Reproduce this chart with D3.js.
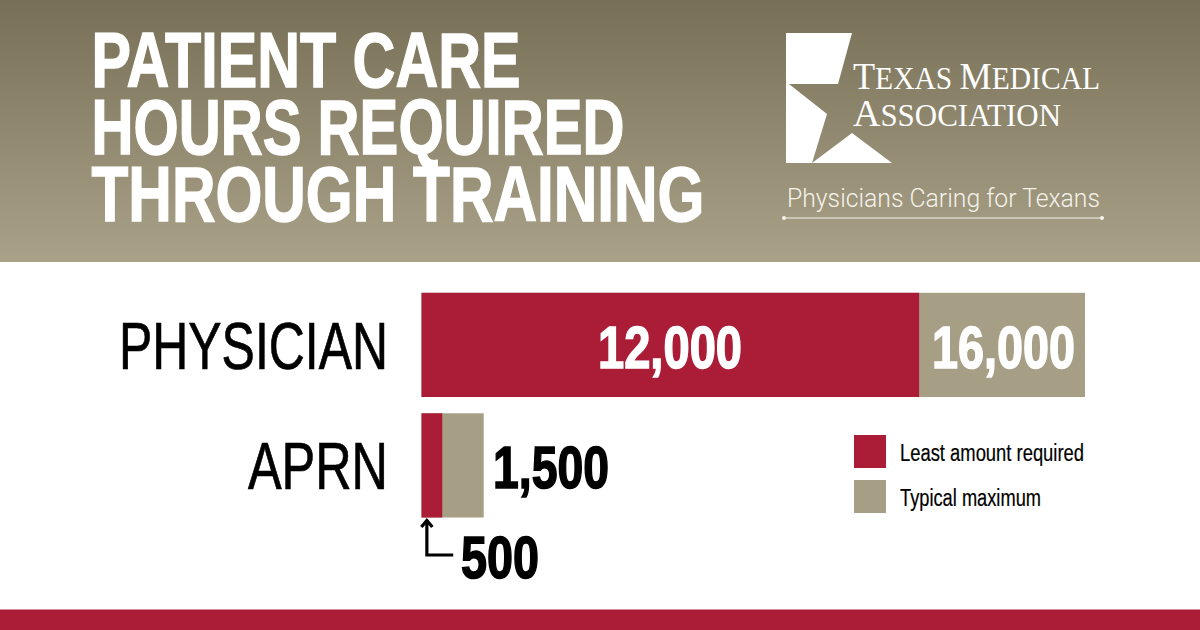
<!DOCTYPE html>
<html>
<head>
<meta charset="utf-8">
<script src="https://cdn.jsdelivr.net/npm/d3@7"></script>
<style>
  html, body { margin: 0; padding: 0; background: #fff; }
  svg { display: block; }
  text { font-family: "Liberation Sans Narrow", "Liberation Sans", sans-serif; }
</style>
</head>
<body>
<div id="container"></div>
<script>
const categories = ["PHYSICIAN", "APRN"];
const leastRequired = [12000, 500];
const typicalMaximum = [16000, 1500];
const legendLabels = ["Least amount required", "Typical maximum"];
const titleLines = ["PATIENT CARE", "HOURS REQUIRED", "THROUGH TRAINING"];

const width = 1200;
const height = 630;
const red = "#ab1c36";
const tan = "#a69e85";

const svg = d3.select("#container")
  .append("svg")
  .attr("width", width)
  .attr("height", height);

// header gradient
const grad = svg.append("defs").append("linearGradient")
  .attr("id", "head").attr("x1", 0).attr("y1", 0).attr("x2", 0).attr("y2", 1);
grad.append("stop").attr("offset", "0%").attr("stop-color", "#777056");
grad.append("stop").attr("offset", "100%").attr("stop-color", "#a9a188");

svg.append("rect").attr("width", width).attr("height", 262).attr("fill", "url(#head)");
svg.append("rect").attr("y", 609.5).attr("width", width).attr("height", 20.5).attr("fill", red);

// text helper, squeezes to the measured width. stroke thickens the narrow face
function label(parent, str, x, y, size, w, opts = {}) {
  const fill = opts.fill || "#000";
  const t = parent.append("text")
    .attr("x", x).attr("y", y)
    .attr("font-size", size)
    .attr("font-weight", opts.weight || "normal")
    .attr("fill", fill)
    .attr("textLength", w)
    .attr("lengthAdjust", "spacingAndGlyphs")
    .text(str);
  if (opts.family) t.style("font-family", opts.family);
  if (opts.stroke) t.attr("stroke", fill).attr("stroke-width", opts.stroke);
  return t;
}

// title
const titleBase = [87, 154, 221];
const titleWidth = [429, 533, 613];
titleLines.forEach((t, i) => {
  label(svg, t, 91.5, titleBase[i], 78, titleWidth[i], { weight: "bold", fill: "#fff", stroke: 1.4 });
});

// logo
const logo = svg.append("g");
logo.append("polygon")
  .attr("points", "786,33 852,33 838,84 789,84 827,114 812,163 852,133 892,163 786,163")
  .attr("fill", "#fff");
const serif = "'Liberation Serif', serif";
const logoText = logo.append("text")
  .attr("x", 853).attr("y", 89)
  .attr("fill", "#fff").attr("font-size", 38)
  .attr("textLength", 247).attr("lengthAdjust", "spacingAndGlyphs");
[["T", 38], ["EXAS ", 31], ["M", 38], ["EDICAL", 31]].forEach(d => {
  logoText.append("tspan").attr("font-size", d[1]).attr("font-family", serif).text(d[0]);
});
const logoText2 = logo.append("text")
  .attr("x", 853).attr("y", 126)
  .attr("fill", "#fff").attr("font-size", 38)
  .attr("textLength", 208).attr("lengthAdjust", "spacingAndGlyphs");
[["A", 38], ["SSOCIATION", 31]].forEach(d => {
  logoText2.append("tspan").attr("font-size", d[1]).attr("font-family", serif).text(d[0]);
});
label(logo, "Physicians Caring for Texans", 787, 207, 25, 313, { fill: "#f4f2ea", family: "Roboto", weight: 300 });
logo.append("line").attr("x1", 784).attr("x2", 1102).attr("y1", 218).attr("y2", 218)
  .attr("stroke", "#f4f2ea").attr("stroke-width", 1.2);
logo.selectAll("circle").data([784, 1102]).join("circle")
  .attr("cx", d => d).attr("cy", 218).attr("r", 2).attr("fill", "#f4f2ea");

// bars
const x = d3.scaleLinear().domain([0, 16000]).range([421.5, 1085]);
const y = d3.scaleBand().domain(categories).range([292.8, 517.5]).paddingInner(0.135);

svg.selectAll("rect.max").data(categories).join("rect")
  .attr("class", "max")
  .attr("x", x(0))
  .attr("y", d => y(d))
  .attr("width", (d, i) => x(typicalMaximum[i]) - x(0))
  .attr("height", y.bandwidth())
  .attr("fill", tan);

svg.selectAll("rect.least").data(categories).join("rect")
  .attr("class", "least")
  .attr("x", x(0))
  .attr("y", d => y(d))
  .attr("width", (d, i) => x(leastRequired[i]) - x(0))
  .attr("height", y.bandwidth())
  .attr("fill", red);

// category labels
const catWidth = [269, 140];
categories.forEach((c, i) => {
  label(svg, c, 388 - catWidth[i], y(c) + 76, 66, catWidth[i], { stroke: 0.7 });
});

// value labels
const fmt = d3.format(",");
const physBase = y("PHYSICIAN") + 75;
const aprnBase = y("APRN") + 75;
const numStyle = { weight: "bold", stroke: 1.6 };
label(svg, fmt(leastRequired[0]), 598, physBase, 60, 144, { ...numStyle, fill: "#fff" });
label(svg, fmt(typicalMaximum[0]), 932, physBase, 60, 143, { ...numStyle, fill: "#fff" });
label(svg, fmt(typicalMaximum[1]), 493, aprnBase, 60, 116, numStyle);
label(svg, fmt(leastRequired[1]), 461, 578, 60, 78, numStyle);

// arrow from the 500 label up to the red piece
const arrowX = (x(0) + x(leastRequired[1])) / 2 - 5;
svg.append("path")
  .attr("d", d3.line()([[x(leastRequired[1]) + 11, 555], [arrowX, 555], [arrowX, 520]]))
  .attr("fill", "none").attr("stroke", "#000").attr("stroke-width", 3.2);
svg.append("path")
  .attr("d", d3.line()([[arrowX - 5.5, 527], [arrowX, 520.5], [arrowX + 5.5, 527]]))
  .attr("fill", "none").attr("stroke", "#000").attr("stroke-width", 3.2);

// legend
const legendY = d3.scalePoint().domain(legendLabels).range([435, 480]);
const legendWidth = [184, 141];
svg.selectAll("rect.key").data(legendLabels).join("rect")
  .attr("class", "key")
  .attr("x", 854)
  .attr("y", d => legendY(d))
  .attr("width", 32)
  .attr("height", 33)
  .attr("fill", (d, i) => i === 0 ? red : tan);
legendLabels.forEach((l, i) => {
  label(svg, l, 900, legendY(l) + 26, 23, legendWidth[i], { stroke: 0.2 });
});
</script>
</body>
</html>
